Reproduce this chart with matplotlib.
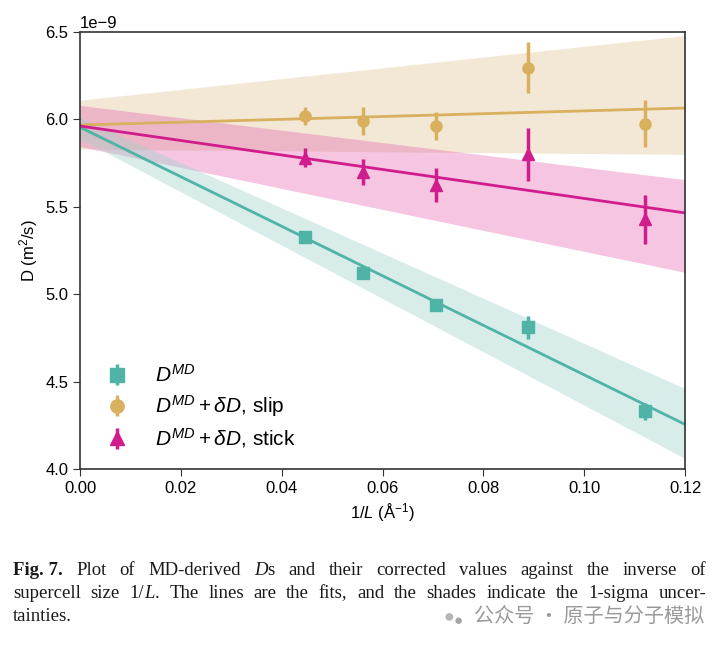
import numpy as np
import matplotlib
matplotlib.use('Agg')
from matplotlib import pyplot as plt

plt.rcParams['font.family'] = ['Liberation Sans', 'DejaVu Sans']
plt.rcParams['mathtext.fontset'] = 'custom'
plt.rcParams['mathtext.rm'] = 'Liberation Sans'
plt.rcParams['mathtext.it'] = 'Liberation Sans:italic'
plt.rcParams['mathtext.bf'] = 'Liberation Sans:bold'

# inverse supercell size 1/L (1/Angstrom)
inv_L = [0.0446, 0.0561, 0.0706, 0.0889, 0.1121]

# D values in units of 1e-9 m^2/s
d_md = [5.325, 5.12, 4.94, 4.81, 4.33]
d_md_err = [0.025, 0.025, 0.035, 0.065, 0.05]
d_slip = [6.02, 5.99, 5.96, 6.295, 5.975]
d_slip_err = [0.05, 0.08, 0.08, 0.145, 0.135]
d_stick = [5.78, 5.70, 5.625, 5.80, 5.43]
d_stick_err = [0.055, 0.075, 0.095, 0.15, 0.14]

# fit lines and 1-sigma bands at 1/L = 0 and 0.12
fit_x = [0.0, 0.12]
md_fit = [5.955, 4.255]
md_lo = [5.89, 4.06]
md_hi = [6.01, 4.46]
slip_fit = [5.968, 6.065]
slip_lo = [5.83, 5.80]
slip_hi = [6.11, 6.48]
stick_fit = [5.962, 5.465]
stick_lo = [5.845, 5.125]
stick_hi = [6.08, 5.655]

teal = '#4fb3a5'
gold = '#d8b05e'
pink = '#d11c8c'

scale = 1e-9
sc = lambda v: np.array(v) * scale

fig = plt.figure(figsize=(7.22, 6.49), dpi=100)
ax = fig.add_axes([0.111, 0.2773, 0.838, 0.6734])

# shaded bands
ax.fill_between(fit_x, sc(slip_lo), sc(slip_hi), color='#f3e8d6', lw=0)
ax.fill_between(fit_x, sc(stick_lo), sc(stick_hi), color='#e35aab', alpha=0.35, lw=0)
ax.fill_between(fit_x, sc(md_lo), sc(md_hi), color='#9fd3c9', alpha=0.4, lw=0)

# fit lines
ax.plot(fit_x, sc(md_fit), color=teal, lw=2)
ax.plot(fit_x, sc(slip_fit), color=gold, lw=2)
ax.plot(fit_x, sc(stick_fit), color=pink, lw=2)

# data points
ax.errorbar(inv_L, sc(d_md), yerr=sc(d_md_err), fmt='s', color=teal, ms=8,
            elinewidth=2.5, capsize=0, label=r'$D^{MD}$')
ax.errorbar(inv_L, sc(d_slip), yerr=sc(d_slip_err), fmt='o', color=gold, ms=8,
            elinewidth=2.5, capsize=0, label=r'$D^{MD}+\delta D$, slip')
ax.errorbar(inv_L, sc(d_stick), yerr=sc(d_stick_err), fmt='^', color=pink, ms=8,
            elinewidth=2.5, capsize=0, label=r'$D^{MD}+\delta D$, stick')

ax.set_xlim(0, 0.12)
ax.set_ylim(4.0e-9, 6.5e-9)
ax.set_xticks([0.0, 0.02, 0.04, 0.06, 0.08, 0.10, 0.12])
ax.set_yticks(sc([4.0, 4.5, 5.0, 5.5, 6.0, 6.5]))
ax.tick_params(labelsize=12, length=5, color='#333333')
ax.yaxis.get_offset_text().set_fontsize(12)
for s in ax.spines.values():
    s.set_color('#333333')
    s.set_linewidth(1.2)
ax.set_xlabel(r'1/$L$ ($\mathrm{\AA}^{-1}$)', fontsize=12)
ax.set_ylabel(r'D (m$^2$/s)', fontsize=12)

ax.legend(loc='lower left', bbox_to_anchor=(0.01, 0.0), frameon=False,
          fontsize=15, handlelength=1.2, handletextpad=1.2, labelspacing=0.35,
          markerscale=1.2)

# caption, justified by hand
fig.canvas.draw()
rend = fig.canvas.get_renderer()
cap_font = 'Liberation Serif'
cap_size = 13.5
lines = [
    [('Fig. 7.', 'bold'), ('Plot', ''), ('of', ''), ('MD-derived', ''), ('D', 'it'), ('s', 'glue'),
     ('and', ''), ('their', ''), ('corrected', ''), ('values', ''), ('against', ''), ('the', ''),
     ('inverse', ''), ('of', '')],
    [('supercell', ''), ('size', ''), ('1/', ''), ('L', 'itglue'), ('.', 'glue'), ('The', ''), ('lines', ''),
     ('are', ''), ('the', ''), ('fits,', ''), ('and', ''), ('the', ''), ('shades', ''), ('indicate', ''),
     ('the', ''), ('1-sigma', ''), ('uncer-', '')],
    [('tainties.', '')],
]
x0, x1 = 13 / 722, 706 / 722
ys = [1 - 575 / 649, 1 - 598 / 649, 1 - 621 / 649]
inv = fig.transFigure.inverted()


def make(word, style, x, y):
    kw = dict(fontsize=cap_size, family=cap_font, color='#1a1a1a', va='baseline')
    if 'bold' in style:
        kw['weight'] = 'bold'
    if 'it' in style:
        kw['style'] = 'italic'
    t = fig.text(x, y, word, **kw)
    bb = t.get_window_extent(rend)
    w = inv.transform((bb.width, 0))[0] - inv.transform((0, 0))[0]
    return t, w


for li, line in enumerate(lines):
    y = ys[li]
    groups = []
    for word, style in line:
        t, w = make(word, style, 0, y)
        if 'glue' in style and groups:
            groups[-1].append((t, w))
        else:
            groups.append([(t, w)])
    total = sum(w for g in groups for _, w in g)
    if li < len(lines) - 1:
        gap = (x1 - x0 - total) / (len(groups) - 1)
    else:
        gap = 0.006
    x = x0
    for g in groups:
        for t, w in g:
            t.set_x(x)
            x += w
        x += gap

# watermark
fig.text(474 / 722, 1 - 622 / 649, '公众号 · 原子与分子模拟', fontsize=14.5,
         family=['Noto Sans CJK SC', 'DejaVu Sans'], color='#9a9a9a', va='baseline')
fig.text(449 / 722, 1 - 621 / 649, '●', fontsize=13, color='#b5b5b5', va='baseline', ha='center')
fig.text(458 / 722, 1 - 625 / 649, '●', fontsize=11, color='#a5a5a5', va='baseline', ha='center')

fig.savefig('out.png', dpi=100)
